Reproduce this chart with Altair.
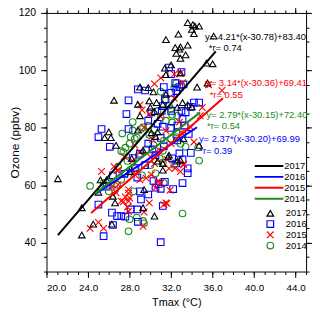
import altair as alt
import pandas as pd

FONT = "Liberation Sans"

years = ["2017", "2016", "2015", "2014"]
colors = ["#000000", "#0000FF", "#FF0000", "#228B22"]
shapes = ["triangle-up", "square", "M-1,-1L1,1M-1,1L1,-1", "circle"]

x2017 = [33.6, 34.1, 34.3, 34.7, 34.0, 34.2, 32.7, 36.1, 33.6, 32.9, 32.4, 35.4, 36.0, 32.0, 31.4, 32.9, 34.5, 35.5, 33.1, 33.6,
         34.0, 31.2, 34.7, 31.8, 31.5, 32.8, 32.5, 33.4, 32.9, 31.5, 29.0, 30.3, 29.9, 26.5, 30.6, 30.0, 32.6, 29.0, 29.8, 28.8,
         30.4, 26.0, 25.6, 26.2, 26.7, 28.8, 30.7, 31.5, 21.1, 23.4, 23.4, 24.5, 25.2, 25.8, 25.0, 26.3, 26.4, 26.6, 28.0, 29.4,
         29.3, 30.4, 30.1, 30.5, 29.3, 28.2, 30.7, 31.2, 32.6, 31.2, 31.7, 33.2, 32.9]
y2017 = [116.6, 115.9, 115.4, 115.4, 114.3, 112.8, 112.6, 111.9, 108.8, 108.2, 107.9, 102.5, 102.3, 101.9, 100.8, 99.1, 94.2, 95.6, 88.8, 88.0,
         87.3, 88.2, 73.9, 70.5, 110.7, 107.4, 105.9, 105.4, 104.2, 98.5, 94.2, 92.5, 89.4, 89.6, 88.8, 87.1, 87.1, 84.2, 94.0, 88.2,
         85.7, 78.6, 76.6, 76.6, 73.9, 79.2, 78.6, 91.7, 62.3, 52.2, 42.7, 46.5, 61.9, 61.9, 57.6, 46.5, 56.2, 53.9, 64.8, 58.5,
         52.2, 49.3, 78.3, 77.0, 72.2, 69.4, 68.4, 67.6, 68.4, 65.3, 69.9, 76.2, 68.8]

x2016 = [25.3, 25.0, 26.1, 27.9, 27.7, 27.9, 28.8, 29.5, 31.3, 31.8, 32.0, 32.5, 32.8, 30.1, 33.4, 29.8, 31.2, 30.7, 33.1, 32.6,
         32.0, 32.4, 33.0, 33.2, 31.4, 31.1, 32.0, 33.0, 34.2, 34.7, 33.9, 32.0, 33.3, 31.2, 33.7, 32.6, 31.3, 33.9, 32.8, 33.1,
         32.1, 32.5, 33.6, 33.6, 33.1, 32.2, 31.2, 31.0, 28.75, 30.3, 30.8, 31.4, 30.5, 31.0, 29.0, 29.8, 29.1, 26.3, 26.8, 27.2,
         27.6, 26.4, 28.8, 25.0, 25.5, 28.1, 28.75, 29.5, 28.3, 29.0, 30.2, 29.8, 31.0, 30.5, 27.5, 28.5, 25.8, 26.4]
y2016 = [79.6, 76.8, 73.4, 89.6, 84.8, 79.6, 93.4, 93.0, 94.2, 101.0, 92.2, 92.8, 94.2, 85.4, 85.4, 82.5, 87.6, 81.4, 83.1, 80.8,
         98.7, 95.6, 99.4, 95.1, 90.0, 85.9, 85.9, 85.9, 88.8, 88.8, 87.3, 80.0, 80.8, 80.4, 77.9, 75.6, 73.6, 71.3, 71.1, 69.0,
         69.4, 67.6, 65.9, 64.2, 60.8, 58.7, 52.8, 40.2, 62.7, 61.5, 60.5, 61.2, 59.2, 58.8, 57.9, 56.8, 55.1, 50.5, 49.3, 49.3,
         49.1, 46.2, 47.3, 53.3, 42.3, 51.6, 51.6, 67.0, 69.5, 71.0, 72.5, 74.5, 76.5, 70.5, 64.0, 66.0, 59.5, 63.5]

x2015 = [30.4, 29.0, 29.2, 29.9, 29.4, 31.0, 32.3, 32.9, 33.1, 35.0, 36.9, 35.6, 32.3, 34.8, 33.9, 33.0, 34.2, 32.0, 31.6, 32.4,
         32.9, 33.2, 31.9, 31.0, 31.6, 25.3, 27.9, 27.9, 27.4, 27.8, 31.3, 30.5, 31.8, 33.2, 26.9, 28.4, 25.0, 24.2, 25.5, 29.3,
         27.2, 27.6, 27.9, 26.3, 26.7, 26.9, 29.0, 29.6, 30.7, 31.5, 30.4, 29.4, 27.9, 26.8, 28.0, 29.9, 30.1, 28.3, 29.0, 30.0,
         30.8, 27.5, 28.5, 30.2, 26.5, 31.5, 32.8, 31.0]
y2015 = [95.3, 88.0, 86.2, 84.8, 80.2, 97.4, 98.7, 99.1, 95.7, 87.1, 93.0, 95.0, 90.3, 84.2, 80.2, 78.5, 75.1, 74.5, 69.0, 65.9,
         64.8, 67.1, 58.3, 60.8, 53.7, 64.8, 57.3, 54.5, 54.3, 52.4, 53.3, 59.1, 65.9, 67.4, 65.3, 64.2, 47.1, 45.0, 45.0, 45.7,
         54.5, 56.0, 58.5, 59.6, 57.4, 60.2, 61.9, 62.5, 61.3, 53.9, 67.6, 50.7, 51.0, 65.1, 55.6, 53.9, 63.7, 68.5, 71.5, 70.0,
         72.5, 70.0, 74.0, 76.0, 66.5, 79.0, 82.0, 84.0]

x2014 = [29.3, 28.3, 27.4, 28.1, 32.5, 32.3, 33.0, 31.5, 31.8, 32.1, 29.8, 31.5, 31.0, 30.7, 29.1, 28.7, 28.0, 27.6, 31.3, 32.0,
         32.5, 32.1, 32.0, 32.6, 31.0, 32.9, 33.4, 34.6, 34.7, 33.1, 31.2, 31.3, 28.5, 27.2, 26.9, 27.6, 27.2, 26.8, 28.0, 27.9,
         29.3, 32.5, 32.3, 30.5, 30.9, 24.2, 25.5, 26.0, 29.4, 28.4, 28.7, 26.6, 26.0, 28.9, 29.6, 30.3, 29.9, 28.6, 30.0, 27.8,
         29.2, 30.4, 31.2, 28.3, 27.3]
y2014 = [80.2, 79.1, 71.6, 76.8, 95.6, 93.9, 94.8, 89.6, 87.7, 84.6, 80.8, 82.5, 92.6, 85.9, 79.6, 76.6, 74.5, 73.1, 75.6, 76.2,
         78.5, 81.9, 86.5, 84.2, 83.6, 74.5, 73.4, 73.2, 68.6, 50.2, 67.9, 60.8, 76.2, 71.9, 66.5, 64.2, 61.9, 60.2, 48.2, 44.0,
         47.6, 76.8, 67.1, 64.2, 69.4, 59.8, 60.8, 57.9, 46.8, 57.9, 48.8, 58.5, 61.1, 70.5, 72.5, 74.0, 77.5, 66.0, 67.0, 68.5,
         63.5, 79.5, 72.0, 82.0, 78.0]

# fitted regression segments (end points), order = years
fit_x0 = [21.1, 24.8, 24.3, 24.7]
fit_y0 = [42.7, 57.2, 50.4, 57.2]
fit_x1 = [36.3, 34.5, 37.0, 34.8]
fit_y1 = [106.6, 80.2, 90.3, 85.4]

eq_text = ["y= 4.21*(x-30.78)+83.40", "y= 2.37*(x-30.20)+69.99", "y= 3.14*(x-30.36)+69.41", "y= 2.79*(x-30.15)+72.40"]
eq_x = [35.27, 34.68, 35.37, 35.40]
eq_y = [111.66, 76.23, 95.44, 84.56]
r_text = ["*r= 0.74", "*r= 0.39", "*r= 0.55", "*r= 0.54"]
r_x = [35.63, 34.71, 35.72, 35.46]
r_y = [107.65, 71.87, 91.32, 80.69]

x_major = [20, 24, 28, 32, 36, 40, 44]
x_minor = list(range(20, 46))
y_major = [40, 60, 80, 100, 120]
y_minor = list(range(30, 121, 5))

# ---------- tables ----------
pts = []
for yr, xs_, ys_ in [("2014", x2014, y2014), ("2016", x2016, y2016), ("2015", x2015, y2015), ("2017", x2017, y2017)]:
    for a, b in zip(xs_, ys_):
        pts.append({"year": yr, "x": a, "y": b})
pts_df = pd.DataFrame(pts)

line_keys = ["L" + yr for yr in years]
line_rows = []
for i, key in enumerate(line_keys):
    line_rows.append({"lyear": key, "lx": fit_x0[i], "ly": fit_y0[i]})
    line_rows.append({"lyear": key, "lx": fit_x1[i], "ly": fit_y1[i]})
lines_df = pd.DataFrame(line_rows)

xs = alt.Scale(domain=[20, 45], nice=False, zero=False)
ys = alt.Scale(domain=[30, 120], nice=False, zero=False)

common = dict(domain=False, grid=False, tickColor="black", tickWidth=1, labelColor="black",
              labelFont=FONT, titleFont=FONT, titleColor="black", titleFontWeight="normal")

def axis_layer(xa, ya):
    return alt.Chart(lines_df).mark_point(opacity=0).encode(
        x=alt.X("lx:Q", scale=xs, axis=xa),
        y=alt.Y("ly:Q", scale=ys, axis=ya),
    )

ax1 = axis_layer(
    alt.Axis(orient="bottom", values=x_major, format=".1f", tickSize=6, labelFontSize=10, labelPadding=5,
             title="Tmax (°C)", titleFontSize=11, titlePadding=4, **common),
    alt.Axis(orient="left", values=y_major, format="d", tickSize=6, labelFontSize=10.5, labelPadding=5,
             title="Ozone (ppbv)", titleFontSize=12, titlePadding=-3, **common),
)
ax2 = axis_layer(
    alt.Axis(orient="bottom", values=x_minor, tickSize=3, labels=False, title=None, **common),
    alt.Axis(orient="left", values=y_minor, tickSize=3, labels=False, title=None, **common),
)
ax3 = axis_layer(
    alt.Axis(orient="top", values=x_major, tickSize=6, labels=False, title=None, **common),
    alt.Axis(orient="right", values=y_major, tickSize=6, labels=False, title=None, **common),
)
ax4 = axis_layer(
    alt.Axis(orient="top", values=x_minor, tickSize=3, labels=False, title=None, **common),
    alt.Axis(orient="right", values=y_minor, tickSize=3, labels=False, title=None, **common),
)

pt_legend = alt.Legend(orient="none", legendX=222, legendY=198, title=None, clipHeight=10, labelOffset=11,
                       labelFontSize=9.5, labelFont=FONT, labelColor="black", rowPadding=0.9, padding=0,
                       symbolStrokeWidth=1.2, symbolSize=45)

points = alt.Chart(pts_df).mark_point(filled=False, size=45, strokeWidth=1.1, opacity=1).encode(
    x=alt.X("x:Q", scale=xs, axis=None),
    y=alt.Y("y:Q", scale=ys, axis=None),
    color=alt.Color("year:N", scale=alt.Scale(domain=years, range=colors), legend=pt_legend),
    shape=alt.Shape("year:N", scale=alt.Scale(domain=years, range=shapes), legend=pt_legend),
)

lines = alt.Chart(lines_df).mark_line(strokeWidth=2).encode(
    x=alt.X("lx:Q", scale=xs, axis=None),
    y=alt.Y("ly:Q", scale=ys, axis=None),
    detail="lyear:N",
    stroke=alt.Stroke("lyear:N", scale=alt.Scale(domain=line_keys, range=colors),
                      legend=alt.Legend(orient="none", legendX=210, legendY=150, title=None,
                                        symbolType="stroke", symbolSize=841, symbolStrokeWidth=2,
                                        clipHeight=10, labelOffset=0, labelFontSize=9.5, labelFont=FONT,
                                        labelColor="black", rowPadding=1.1, padding=0,
                                        labelExpr="substring(datum.label, 1)")),
)

texts = []
for i, yr in enumerate(years):
    tdf = pd.DataFrame({"tx": [eq_x[i], r_x[i]], "ty": [eq_y[i], r_y[i]], "t": [eq_text[i], r_text[i]]})
    texts.append(
        alt.Chart(tdf).mark_text(align="left", baseline="middle", fontSize=9.5, font=FONT, color=colors[i]).encode(
            x=alt.X("tx:Q", scale=xs, axis=None),
            y=alt.Y("ty:Q", scale=ys, axis=None),
            text="t:N",
        )
    )

chart = alt.layer(ax1, ax2, ax3, ax4, points, lines, *texts).resolve_axis(
    x="independent", y="independent"
).properties(
    width=263, height=262,
    padding={"left": 39, "top": 3, "right": 6, "bottom": 38},
    autosize=alt.AutoSizeParams(type="none"),
    background="white",
).configure_view(stroke="black", strokeWidth=1)

chart.save("out.html", embed_options={"renderer": "svg", "actions": False})
